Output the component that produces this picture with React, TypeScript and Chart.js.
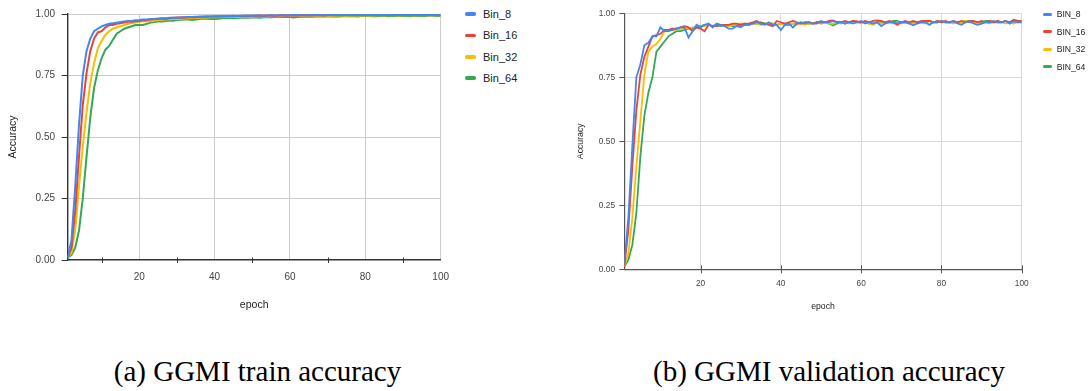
import { useEffect, useRef } from 'react';
import { Chart, registerables } from 'chart.js';

Chart.register(...registerables);

// ---------- data ----------
const EPOCHS: number[] = Array.from({ length: 100 }, (_, i) => i + 1);

const TRAIN_BIN_8 = [
  0.01, 0.08, 0.30, 0.55, 0.75, 0.85, 0.90, 0.93, 0.94, 0.95,
  0.955, 0.96, 0.962, 0.965, 0.968, 0.97, 0.972, 0.972, 0.975, 0.976,
  0.978, 0.978, 0.98, 0.98, 0.982, 0.983, 0.983, 0.985, 0.985, 0.986,
  0.986, 0.987, 0.988, 0.988, 0.989, 0.989, 0.99, 0.99, 0.99, 0.991,
  0.991, 0.992, 0.991, 0.992, 0.993, 0.992, 0.993, 0.993, 0.994, 0.993,
  0.994, 0.994, 0.993, 0.994, 0.995, 0.994, 0.995, 0.995, 0.994, 0.995,
  0.995, 0.996, 0.995, 0.995, 0.996, 0.995, 0.996, 0.996, 0.995, 0.996,
  0.996, 0.996, 0.997, 0.996, 0.996, 0.997, 0.996, 0.997, 0.997, 0.996,
  0.997, 0.997, 0.996, 0.997, 0.997, 0.998, 0.997, 0.997, 0.997, 0.998,
  0.997, 0.997, 0.998, 0.997, 0.998, 0.997, 0.998, 0.998, 0.997, 0.997,
];
const TRAIN_BIN_16 = [
  0.01, 0.05, 0.20, 0.42, 0.63, 0.76, 0.85, 0.90, 0.925, 0.93,
  0.945, 0.955, 0.955, 0.96, 0.962, 0.965, 0.968, 0.968, 0.97, 0.972,
  0.975, 0.975, 0.978, 0.98, 0.98, 0.982, 0.98, 0.983, 0.985, 0.985,
  0.986, 0.986, 0.987, 0.988, 0.987, 0.989, 0.989, 0.99, 0.99, 0.99,
  0.991, 0.99, 0.991, 0.992, 0.991, 0.992, 0.992, 0.993, 0.992, 0.993,
  0.993, 0.994, 0.993, 0.994, 0.994, 0.993, 0.994, 0.995, 0.994, 0.994,
  0.995, 0.994, 0.995, 0.995, 0.996, 0.995, 0.995, 0.996, 0.995, 0.996,
  0.996, 0.995, 0.996, 0.996, 0.997, 0.996, 0.996, 0.997, 0.996, 0.997,
  0.997, 0.996, 0.997, 0.997, 0.996, 0.997, 0.997, 0.998, 0.997, 0.997,
  0.998, 0.997, 0.997, 0.998, 0.997, 0.998, 0.997, 0.998, 0.997, 0.998,
];
const TRAIN_BIN_32 = [
  0.01, 0.03, 0.12, 0.30, 0.46, 0.60, 0.72, 0.80, 0.86, 0.89,
  0.915, 0.93, 0.94, 0.945, 0.95, 0.955, 0.96, 0.963, 0.965, 0.968,
  0.97, 0.97, 0.972, 0.975, 0.975, 0.977, 0.978, 0.978, 0.98, 0.98,
  0.981, 0.982, 0.983, 0.983, 0.984, 0.985, 0.985, 0.986, 0.986, 0.987,
  0.987, 0.987, 0.988, 0.988, 0.989, 0.988, 0.989, 0.989, 0.99, 0.989,
  0.99, 0.99, 0.991, 0.99, 0.991, 0.991, 0.992, 0.991, 0.992, 0.992,
  0.992, 0.993, 0.992, 0.993, 0.993, 0.992, 0.993, 0.993, 0.994, 0.993,
  0.994, 0.993, 0.994, 0.994, 0.993, 0.994, 0.994, 0.995, 0.994, 0.994,
  0.995, 0.994, 0.995, 0.995, 0.994, 0.995, 0.995, 0.995, 0.994, 0.995,
  0.995, 0.995, 0.994, 0.995, 0.995, 0.995, 0.994, 0.995, 0.995, 0.995,
];
const TRAIN_BIN_64 = [
  0.01, 0.02, 0.05, 0.12, 0.25, 0.42, 0.58, 0.70, 0.77, 0.82,
  0.855, 0.87, 0.895, 0.92, 0.93, 0.94, 0.945, 0.95, 0.955, 0.955,
  0.955, 0.96, 0.965, 0.967, 0.97, 0.97, 0.972, 0.973, 0.973, 0.976,
  0.977, 0.978, 0.978, 0.976, 0.978, 0.98, 0.982, 0.981, 0.98, 0.98,
  0.981, 0.983, 0.984, 0.985, 0.983, 0.984, 0.985, 0.986, 0.985, 0.986,
  0.986, 0.985, 0.987, 0.988, 0.987, 0.988, 0.989, 0.988, 0.989, 0.988,
  0.986, 0.988, 0.989, 0.99, 0.989, 0.989, 0.99, 0.99, 0.991, 0.99,
  0.99, 0.991, 0.99, 0.991, 0.991, 0.992, 0.991, 0.99, 0.992, 0.992,
  0.992, 0.991, 0.991, 0.992, 0.992, 0.991, 0.992, 0.993, 0.992, 0.992,
  0.992, 0.991, 0.993, 0.992, 0.993, 0.992, 0.993, 0.993, 0.992, 0.992,
];

const VAL_BIN_8 = [
  0.02, 0.20, 0.48, 0.75, 0.80, 0.875, 0.885, 0.91, 0.91, 0.945,
  0.93, 0.93, 0.935, 0.94, 0.945, 0.945, 0.905, 0.93, 0.955, 0.945,
  0.955, 0.96, 0.945, 0.96, 0.955, 0.95, 0.94, 0.94, 0.95, 0.945,
  0.955, 0.955, 0.96, 0.965, 0.96, 0.955, 0.965, 0.955, 0.955, 0.935,
  0.955, 0.96, 0.945, 0.96, 0.965, 0.96, 0.965, 0.96, 0.96, 0.97,
  0.965, 0.965, 0.97, 0.965, 0.965, 0.96, 0.965, 0.96, 0.965, 0.97,
  0.96, 0.965, 0.96, 0.965, 0.95, 0.96, 0.965, 0.965, 0.96, 0.965,
  0.965, 0.96, 0.953, 0.96, 0.965, 0.965, 0.955, 0.965, 0.965, 0.97,
  0.965, 0.965, 0.97, 0.96, 0.955, 0.965, 0.97, 0.96, 0.955, 0.96,
  0.965, 0.965, 0.97, 0.965, 0.965, 0.97, 0.96, 0.97, 0.965, 0.965,
];
const VAL_BIN_16 = [
  0.01, 0.15, 0.40, 0.62, 0.76, 0.83, 0.87, 0.91, 0.915, 0.92,
  0.935, 0.935, 0.94, 0.94, 0.945, 0.95, 0.945, 0.93, 0.945, 0.94,
  0.93, 0.955, 0.95, 0.95, 0.955, 0.955, 0.955, 0.96, 0.96, 0.955,
  0.96, 0.96, 0.965, 0.97, 0.96, 0.96, 0.955, 0.95, 0.97, 0.965,
  0.96, 0.965, 0.97, 0.965, 0.96, 0.965, 0.965, 0.96, 0.965, 0.965,
  0.965, 0.97, 0.972, 0.965, 0.965, 0.97, 0.965, 0.97, 0.968, 0.965,
  0.97, 0.965, 0.97, 0.972, 0.97, 0.965, 0.97, 0.965, 0.955, 0.965,
  0.97, 0.965, 0.97, 0.965, 0.97, 0.97, 0.97, 0.965, 0.97, 0.965,
  0.97, 0.965, 0.97, 0.965, 0.97, 0.965, 0.97, 0.97, 0.965, 0.97,
  0.965, 0.97, 0.965, 0.97, 0.965, 0.97, 0.965, 0.975, 0.97, 0.97,
];
const VAL_BIN_32 = [
  0.01, 0.06, 0.20, 0.40, 0.58, 0.76, 0.85, 0.87, 0.88, 0.90,
  0.93, 0.935, 0.935, 0.935, 0.94, 0.94, 0.94, 0.945, 0.945, 0.95,
  0.95, 0.955, 0.95, 0.955, 0.955, 0.95, 0.95, 0.955, 0.955, 0.96,
  0.96, 0.955, 0.96, 0.96, 0.955, 0.96, 0.96, 0.96, 0.955, 0.96,
  0.955, 0.96, 0.96, 0.955, 0.96, 0.955, 0.96, 0.96, 0.965, 0.96,
  0.965, 0.96, 0.96, 0.965, 0.96, 0.965, 0.96, 0.965, 0.965, 0.96,
  0.965, 0.96, 0.955, 0.965, 0.96, 0.965, 0.965, 0.96, 0.965, 0.96,
  0.965, 0.965, 0.96, 0.965, 0.965, 0.96, 0.97, 0.965, 0.97, 0.965,
  0.965, 0.965, 0.96, 0.965, 0.965, 0.97, 0.97, 0.965, 0.965, 0.96,
  0.965, 0.96, 0.965, 0.97, 0.965, 0.96, 0.965, 0.96, 0.965, 0.97,
];
const VAL_BIN_64 = [
  0.01, 0.037, 0.095, 0.22, 0.44, 0.60, 0.69, 0.75, 0.85, 0.87,
  0.89, 0.91, 0.92, 0.93, 0.93, 0.935, 0.94, 0.94, 0.945, 0.95,
  0.955, 0.955, 0.95, 0.955, 0.95, 0.955, 0.955, 0.95, 0.95, 0.955,
  0.955, 0.955, 0.96, 0.96, 0.965, 0.96, 0.96, 0.96, 0.955, 0.96,
  0.955, 0.955, 0.96, 0.96, 0.96, 0.96, 0.96, 0.96, 0.965, 0.96,
  0.965, 0.96, 0.952, 0.96, 0.965, 0.96, 0.965, 0.97, 0.965, 0.965,
  0.965, 0.96, 0.96, 0.965, 0.965, 0.965, 0.965, 0.97, 0.97, 0.965,
  0.965, 0.96, 0.965, 0.965, 0.965, 0.965, 0.97, 0.965, 0.965, 0.97,
  0.965, 0.965, 0.965, 0.965, 0.965, 0.97, 0.965, 0.965, 0.965, 0.965,
  0.97, 0.97, 0.965, 0.965, 0.965, 0.97, 0.96, 0.965, 0.97, 0.965,
];

const TRAIN_LABELS = ['Bin_8', 'Bin_16', 'Bin_32', 'Bin_64'];
const VAL_LABELS = ['BIN_8', 'BIN_16', 'BIN_32', 'BIN_64'];
const COLORS = ['#4285F4', '#EA4335', '#FBBC04', '#34A853'];

const Y_TICKS = [0, 0.25, 0.5, 0.75, 1];
const TRAIN_X_TICKS = [10, 20, 30, 40, 50, 60, 70, 80, 90, 100];
const TRAIN_X_LABELED = [20, 40, 60, 80, 100];
const TRAIN_X_MINOR = [10, 30, 50, 70, 90];
const VAL_X_TICKS = [20, 40, 60, 80, 100];

const X_TITLE = 'epoch';
const Y_TITLE = 'Accuracy';
const CAPTION_A = '(a) GGMI train accuracy';
const CAPTION_B = '(b) GGMI validation accuracy';

const SANS = '"Liberation Sans", Arial, sans-serif';
const SERIF = '"Liberation Serif", "Times New Roman", serif';

type Spec = {
  width: number;
  height: number;
  padTop: number;
  padRight: number;
  yWidth: number;
  xHeight: number;
  tickSize: number;
  titleSize: number;
  yTitlePad: number;
  xTitlePad: number;
  yTickPad: number;
  yTickLen: number;
  xTickPad: number;
  xTicks: number[];
  xLabeled: number[];
  crossTicks: number[];
  crossUp: number;
  crossDown: number;
  axisColor: string;
  axisWidth: number;
  gridColor: string;
  lineWidth: number;
  labels: string[];
  series: number[][];
};

function buildChart(canvas: HTMLCanvasElement, s: Spec) {
  const crossPlugin = {
    id: 'crossTicks',
    afterDraw(chart: any) {
      const { ctx, chartArea } = chart;
      const x = chart.scales.x;
      ctx.save();
      ctx.strokeStyle = s.axisColor;
      ctx.lineWidth = 1;
      s.crossTicks.forEach((v) => {
        const px = Math.round(x.getPixelForValue(v)) + 0.5;
        ctx.beginPath();
        ctx.moveTo(px, chartArea.bottom - s.crossUp);
        ctx.lineTo(px, chartArea.bottom + s.crossDown);
        ctx.stroke();
      });
      ctx.restore();
    },
  };

  return new Chart(canvas, {
    type: 'line',
    data: {
      datasets: s.series.map((vals, i) => ({
        label: s.labels[i],
        data: EPOCHS.map((e, j) => ({ x: e, y: vals[j] })),
        borderColor: COLORS[i],
        backgroundColor: COLORS[i],
        borderWidth: s.lineWidth,
        pointRadius: 0,
        tension: 0,
        fill: false,
      })),
    },
    options: {
      animation: false,
      responsive: false,
      devicePixelRatio: 1,
      events: [],
      layout: { padding: { top: s.padTop, right: s.padRight, left: 0, bottom: 0 } },
      plugins: { legend: { display: false }, tooltip: { enabled: false } },
      scales: {
        x: {
          type: 'linear',
          min: 1,
          max: 100,
          afterBuildTicks: (scale: any) => {
            scale.ticks = s.xTicks.map((v) => ({ value: v }));
          },
          afterFit: (scale: any) => {
            scale.height = s.xHeight;
          },
          ticks: {
            autoSkip: false,
            maxRotation: 0,
            padding: s.xTickPad,
            color: '#444',
            font: { family: SANS, size: s.tickSize },
            callback: (v: any) => (s.xLabeled.includes(Number(v)) ? String(v) : ''),
          },
          grid: {
            drawTicks: false,
            color: (ctx: any) =>
              ctx.tick && s.xLabeled.includes(ctx.tick.value) ? s.gridColor : 'rgba(0,0,0,0)',
          },
          border: { display: true, color: s.axisColor, width: s.axisWidth },
          title: {
            display: true,
            text: X_TITLE,
            color: '#222',
            font: { family: SANS, size: s.titleSize },
            padding: { top: 0, bottom: s.xTitlePad },
          },
        },
        y: {
          type: 'linear',
          min: 0,
          max: 1,
          afterBuildTicks: (scale: any) => {
            scale.ticks = Y_TICKS.map((v) => ({ value: v }));
          },
          afterFit: (scale: any) => {
            scale.width = s.yWidth;
          },
          ticks: {
            padding: s.yTickPad,
            color: '#444',
            font: { family: SANS, size: s.tickSize },
            callback: (v: any) => Number(v).toFixed(2),
          },
          grid: {
            drawTicks: true,
            tickLength: s.yTickLen,
            tickColor: s.axisColor,
            color: (ctx: any) => (ctx.tick && ctx.tick.value === 0 ? 'rgba(0,0,0,0)' : s.gridColor),
          },
          border: { display: true, color: s.axisColor, width: s.axisWidth },
          title: {
            display: true,
            text: Y_TITLE,
            color: '#222',
            font: { family: SANS, size: s.titleSize },
            padding: { top: s.yTitlePad, bottom: 0 },
          },
        },
      },
    } as any,
    plugins: [crossPlugin],
  });
}

function ChartCanvas({ spec, left }: { spec: Spec; left: number }) {
  const ref = useRef<HTMLCanvasElement | null>(null);
  useEffect(() => {
    if (!ref.current) return;
    const c = buildChart(ref.current, spec);
    return () => c.destroy();
  }, []);
  return (
    <canvas
      ref={ref}
      width={spec.width}
      height={spec.height}
      style={{ position: 'absolute', left, top: 0, width: spec.width, height: spec.height }}
    />
  );
}

function Legend({
  labels, left, top, gap, swatchW, swatchH, textGap, fontSize,
}: {
  labels: string[]; left: number; top: number; gap: number; swatchW: number; swatchH: number; textGap: number; fontSize: number;
}) {
  return (
    <>
      {labels.map((l, i) => (
        <div
          key={l}
          style={{
            position: 'absolute',
            left,
            top: top + i * gap - 10,
            height: 20,
            display: 'flex',
            alignItems: 'center',
            whiteSpace: 'nowrap',
            fontFamily: SANS,
            fontSize,
            color: '#222',
          }}
        >
          <span
            style={{
              display: 'inline-block',
              width: swatchW,
              height: swatchH,
              borderRadius: swatchH / 2,
              background: COLORS[i],
              marginRight: textGap,
            }}
          />
          <span>{l}</span>
        </div>
      ))}
    </>
  );
}

const TRAIN_SPEC: Spec = {
  width: 460,
  height: 320,
  padTop: 14,
  padRight: 14.7,
  yWidth: 67.7,
  xHeight: 60,
  tickSize: 10,
  titleSize: 10.5,
  yTitlePad: 7,
  xTitlePad: 9,
  yTickPad: 6.7,
  yTickLen: 6,
  xTickPad: 11,
  xTicks: TRAIN_X_TICKS,
  xLabeled: TRAIN_X_LABELED,
  crossTicks: TRAIN_X_MINOR,
  crossUp: 2.5,
  crossDown: 3,
  axisColor: '#333',
  axisWidth: 1.4,
  gridColor: '#cccccc',
  lineWidth: 2,
  labels: TRAIN_LABELS,
  series: [TRAIN_BIN_8, TRAIN_BIN_16, TRAIN_BIN_32, TRAIN_BIN_64],
};

const VAL_SPEC: Spec = {
  width: 546,
  height: 320,
  padTop: 13.3,
  padRight: 69.3,
  yWidth: 79.3,
  xHeight: 50.7,
  tickSize: 8.3,
  titleSize: 8.7,
  yTitlePad: 30,
  xTitlePad: 8.5,
  yTickPad: 4.3,
  yTickLen: 5,
  xTickPad: 9,
  xTicks: VAL_X_TICKS,
  xLabeled: VAL_X_TICKS,
  crossTicks: VAL_X_TICKS,
  crossUp: 4,
  crossDown: 4,
  axisColor: '#555',
  axisWidth: 1.2,
  gridColor: '#d9d9d9',
  lineWidth: 1.8,
  labels: VAL_LABELS,
  series: [VAL_BIN_8, VAL_BIN_16, VAL_BIN_32, VAL_BIN_64],
};

export default function App() {
  return (
    <div
      style={{
        position: 'absolute',
        left: 0,
        top: 0,
        width: 1091,
        height: 391,
        overflow: 'hidden',
        background: '#fff',
      }}
    >
      <ChartCanvas spec={TRAIN_SPEC} left={0} />
      <ChartCanvas spec={VAL_SPEC} left={545} />
      <Legend labels={TRAIN_LABELS} left={465} top={14} gap={21.4} swatchW={11} swatchH={3.5} textGap={7} fontSize={11} />
      <Legend labels={VAL_LABELS} left={1042.7} top={14} gap={17.6} swatchW={9} swatchH={3} textGap={5} fontSize={8.6} />
      <div
        style={{
          position: 'absolute', left: 57.5, width: 400, top: 354, textAlign: 'center', lineHeight: '34px',
          fontFamily: SERIF, fontSize: 29, color: '#000', whiteSpace: 'nowrap',
        }}
      >
        {CAPTION_A}
      </div>
      <div
        style={{
          position: 'absolute', left: 629, width: 400, top: 354, textAlign: 'center', lineHeight: '34px',
          fontFamily: SERIF, fontSize: 29, color: '#000', whiteSpace: 'nowrap',
        }}
      >
        {CAPTION_B}
      </div>
    </div>
  );
}
